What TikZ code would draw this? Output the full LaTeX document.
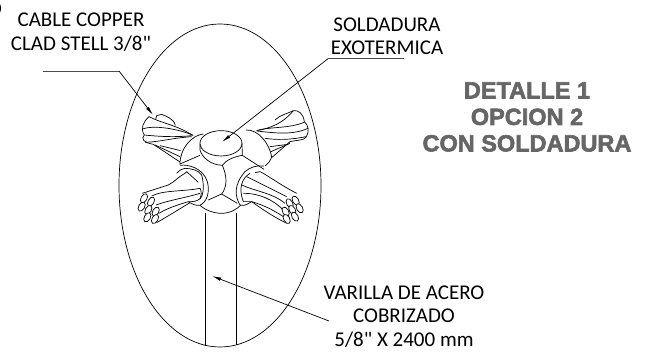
\documentclass[tikz,border=0pt]{standalone}
\usepackage{fontspec}
\setmainfont{Carlito}[Ligatures=TeXOff]
\newfontfamily\headfont[BoldFeatures={FakeBold=2.5}]{Liberation Sans}
\usetikzlibrary{arrows.meta}
\tikzset{
  lbl/.style={inner sep=0pt,font=\fontsize{21}{23.3}\selectfont,align=center},
  headlbl/.style={inner sep=0pt,font=\headfont\bfseries\fontsize{23.5}{26.5}\selectfont,text=black!60,align=center},
  leader/.style={black,line width=0.7pt,-{Latex[length=9pt,width=3.4pt]}},
  wire/.style={black,line width=0.7pt},
  underl/.style={black!70,line width=0.9pt}
}
\begin{document}
\begin{tikzpicture}[x=1pt,y=-1pt]
  \useasboundingbox (0,0) rectangle (649,352);
  % outline and rod
  \draw [wire] (220,185.5) ellipse (101 and 161.5);
  \draw [wire] (205,213) -- (205,346);
  \draw [wire] (236.5,213) -- (236.5,345);
  \draw [wire] (0,12) arc (50:-50:1.5 and 5);
  % labels
  \node [lbl] (cable) at (81,32) {CABLE COPPER\\CLAD STELL 3/8"};
  \node [lbl] (sold) at (387,36) {SOLDADURA\\EXOTERMICA};
  \node [lbl] (vari) at (404,316.5) {VARILLA DE ACERO\\COBRIZADO\\5/8" X 2400 mm};
  \node [headlbl] (title) at (527,117) {DETALLE 1\\OPCION 2\\CON SOLDADURA};
  \coordinate (c1) at (43,71);
  \coordinate (c2) at (119,71);
  \coordinate (c3) at (153,115);
  \coordinate (s0) at (404,58.7);
  \coordinate (s1) at (328,58.7);
  \coordinate (s2) at (222,142);
  \coordinate (v1) at (329,321);
  \coordinate (v2) at (212,276);
  \draw [underl] (c1) -- (c2);
  \draw [leader] (c2) -- (c3);
  \draw [underl] (s0) -- (s1);
  \draw [leader] (s1) -- (s2);
  \draw [leader] (v1) -- (v2);
  % joint
  \begin{scope}[shift={(120,60)},x=0.3333pt,y=-0.3333pt]
    % cap
    \draw [wire] (303,250) ellipse (63 and 38);
    \draw [wire] (240,252) -- (240,270) .. controls (245,290) and (270,315) .. (307,316) .. controls (320,298) and (345,290) .. (367,286) -- (366,250);
    % upper balls
    \draw [wire] (250,222) .. controls (215,226) and (180,265) .. (180,312) -- (240,286);
    \draw [wire] (378,210) .. controls (415,208) and (448,250) .. (455,290) .. controls (452,302) and (445,310) .. (435,318);
    \draw [wire] (367,286) -- (432,328);
    % hub centre and bottom
    \draw [wire] (307,316) .. controls (322,350) and (322,380) .. (305,402) -- (265,420);
    \draw [wire] (305,402) -- (352,430);
    \draw [wire] (240,436) .. controls (255,450) and (280,460) .. (305,460) .. controls (330,460) and (350,448) .. (362,436);
    % upper left cable
    \draw [wire] (87,170) .. controls (70,185) and (60,205) .. (73,225) .. controls (62,235) and (70,248) .. (100,253) -- (180,306);
    \draw [wire] (87,170) .. controls (125,190) and (170,195) .. (218,226);
    \draw [wire] (107,178) -- (110,167) -- (125,163) .. controls (140,170) and (160,175) .. (166,196);
    \draw [wire] (67,207) .. controls (100,195) and (170,205) .. (220,226);
    \draw [wire] (73,225) .. controls (120,230) and (170,232) .. (215,227);
    \draw [wire] (75,247) .. controls (125,245) and (150,235) .. (215,230);
    \draw [wire] (105,255) -- (180,290);
    \draw [wire] (120,257) -- (182,272);
    % upper right cable
    \draw [wire] (410,212) .. controls (450,205) and (490,190) .. (520,152) .. controls (535,150) and (550,160) .. (553,185) .. controls (565,195) and (570,215) .. (558,232) .. controls (550,242) and (530,240) .. (510,245) -- (455,293);
    \draw [wire] (465,180) .. controls (480,165) and (505,160) .. (520,152);
    \draw [wire] (415,210) .. controls (460,200) and (510,205) .. (553,187);
    \draw [wire] (410,213) .. controls (470,220) and (520,225) .. (564,205);
    \draw [wire] (435,235) .. controls (470,240) and (510,240) .. (558,230);
    \draw [wire] (450,260) -- (505,253);
    \draw [wire] (453,275) -- (510,250);
    % lower left collar and cable
    \draw [wire] (180,316) .. controls (205,312) and (250,325) .. (262,365) .. controls (270,395) and (262,425) .. (240,436) .. controls (228,438) and (215,432) .. (205,425);
    \draw [wire] (170,340) .. controls (180,330) and (185,326) .. (195,325) .. controls (215,326) and (235,330) .. (245,345) .. controls (252,370) and (252,400) .. (242,415) .. controls (230,425) and (220,425) .. (205,425);
    \draw [wire] (67,400) -- (145,375) .. controls (165,365) and (175,350) .. (195,340) -- (200,335) -- (235,367);
    \draw [wire] (95,408) .. controls (130,390) and (190,395) .. (240,385);
    \draw [wire] (108,435) .. controls (150,420) and (190,415) .. (240,400);
    \draw [wire] (117,460) .. controls (150,440) and (190,430) .. (205,425);
    \draw [wire] (110,488) .. controls (150,465) and (190,440) .. (210,428);
    \draw [wire] (240,385) .. controls (245,395) and (245,405) .. (240,415);
    \foreach \cx/\cy in {72/415,93/425,65/440,85/450,107/455,82/472,105/477}{
      \draw [wire,fill=white] (\cx,\cy) ellipse [x radius=9,y radius=15,rotate=-30];
    }
    % lower right collar and cable
    \draw [wire] (360,435) .. controls (345,410) and (340,375) .. (375,335) .. controls (390,322) and (410,315) .. (432,318);
    \draw [wire] (360,435) .. controls (375,440) and (385,430) .. (395,425);
    \draw [wire] (390,340) .. controls (365,355) and (355,385) .. (370,425) -- (395,425);
    \draw [wire] (405,338) -- (420,335) -- (430,340) .. controls (470,365) and (500,385) .. (530,400);
    \draw [wire] (380,350) .. controls (420,370) and (470,395) .. (500,410);
    \draw [wire] (365,375) .. controls (410,395) and (460,400) .. (495,430);
    \draw [wire] (370,400) .. controls (420,400) and (460,420) .. (490,450);
    \draw [wire] (395,425) .. controls (430,435) and (460,450) .. (490,470);
    \draw [wire] (395,425) .. controls (430,450) and (460,470) .. (500,490);
    \foreach \cx/\cy in {527/422,509/430,539/445,517/450,497/455,525/470,500/477}{
      \draw [wire,fill=white] (\cx,\cy) ellipse [x radius=9,y radius=15,rotate=30];
    }
  \end{scope}
\end{tikzpicture}
\end{document}
